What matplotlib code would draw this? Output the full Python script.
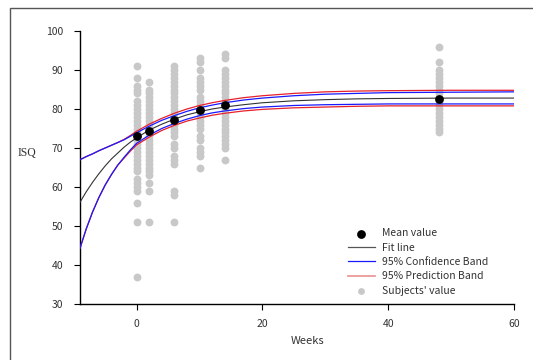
import matplotlib
matplotlib.use("Agg")
import matplotlib.pyplot as plt
from matplotlib.patches import Rectangle

# subjects' ISQ values per measurement week
weeks = [0, 2, 6, 10, 14, 48]
subjects = {
    0: [91, 88, 86, 85, 84, 82, 81, 80, 79, 78, 77, 76, 75, 74, 73, 72, 71, 70,
        69, 68, 67, 66, 65, 64, 62, 61, 60, 59, 56, 51, 37],
    2: [87, 85, 84, 83, 82, 81, 80, 79, 78, 77, 76, 75, 74, 73, 72, 71, 70, 69,
        68, 67, 66, 65, 64, 63, 61, 59, 51],
    6: [91, 90, 89, 88, 87, 86, 85, 84, 83, 82, 81, 80, 79, 78, 77, 76, 75, 74,
        73, 71, 70, 68, 67, 66, 59, 58, 51],
    10: [93, 92, 90, 88, 87, 86, 85, 83, 82, 81, 80, 79, 78, 77, 76, 75, 73, 72,
         70, 69, 68, 65],
    14: [94, 93, 90, 89, 88, 87, 86, 85, 84, 83, 82, 81, 80, 79, 78, 77, 76, 75,
         74, 73, 72, 71, 70, 67],
    48: [96, 92, 90, 89, 88, 87, 86, 85, 84, 83, 82, 81, 80, 79, 78, 77, 76, 75, 74],
}
mean_values = [73.0, 74.4, 77.2, 79.7, 81.0, 82.6]

# curves
curve_x = [-9, -8, -7, -6, -5, -4, -3, -2, -1, 0, 2, 4, 6, 8, 10, 12, 14, 17,
           20, 25, 30, 35, 40, 50, 60]
fit_y = [56.1, 58.8, 61.2, 63.4, 65.4, 67.2, 68.7, 70.2, 71.5, 72.6, 74.6, 76.1,
         77.4, 78.5, 79.3, 80.0, 80.5, 81.1, 81.6, 82.1, 82.4, 82.6, 82.7, 82.8, 82.8]
ci_upper = [67.0, 67.8, 68.5, 69.3, 70.0, 70.7, 71.4, 72.1, 73.0, 73.9, 75.6, 77.1,
            78.3, 79.4, 80.3, 81.0, 81.6, 82.3, 82.8, 83.4, 83.8, 84.0, 84.2, 84.3, 84.4]
pi_upper = [67.0, 67.8, 68.5, 69.3, 70.0, 70.7, 71.4, 72.2, 73.2, 74.3, 76.1, 77.6,
            78.9, 80.0, 80.9, 81.6, 82.2, 82.9, 83.4, 84.0, 84.4, 84.6, 84.7, 84.8, 84.8]
ci_lower = [44.3, 49.3, 53.6, 57.3, 60.5, 63.2, 65.6, 67.6, 69.5, 71.2, 73.3, 75.0,
            76.3, 77.4, 78.3, 79.0, 79.5, 80.1, 80.5, 80.9, 81.1, 81.2, 81.3, 81.3, 81.3]
pi_lower = [44.3, 49.3, 53.6, 57.3, 60.5, 63.2, 65.6, 67.4, 69.2, 70.8, 72.8, 74.5,
            75.8, 76.9, 77.7, 78.4, 78.9, 79.5, 79.9, 80.3, 80.5, 80.7, 80.8, 80.8, 80.8]

sans = ["Noto Sans CJK KR", "DejaVu Sans"]
txt = "#333333"

fig = plt.figure(figsize=(5.33, 3.6), dpi=100)
fig.patches.append(Rectangle((10 / 533, -0.1), 1.2, 1.1 - 8 / 360,
                             transform=fig.transFigure, fill=False,
                             edgecolor="#555555", linewidth=1.0))
ax = fig.add_axes([80 / 533, 1 - 304 / 360, 434 / 533, 273 / 360])

for w in weeks:
    ax.scatter([w] * len(subjects[w]), subjects[w], s=32, color="#c8c8c8",
               linewidths=0, zorder=2)

ax.plot(curve_x, pi_upper, color="#e8202a", lw=0.9, zorder=3)
ax.plot(curve_x, pi_lower, color="#e8202a", lw=0.9, zorder=3)
ax.plot(curve_x, ci_upper, color="#1a1aff", lw=0.9, zorder=4)
ax.plot(curve_x, ci_lower, color="#1a1aff", lw=0.9, zorder=4)
ax.plot(curve_x, fit_y, color="#333333", lw=0.8, zorder=5)
ax.scatter(weeks, mean_values, s=40, color="black", linewidths=0, zorder=6)

ax.set_xlim(-9, 60)
ax.set_ylim(30, 100)
ax.set_xticks([0, 20, 40, 60])
ax.set_yticks(range(30, 101, 10))
for s in ["top", "right"]:
    ax.spines[s].set_visible(False)
for s in ["left", "bottom"]:
    ax.spines[s].set_linewidth(1.0)
ax.tick_params(axis="y", length=4, width=0.8, pad=8, labelsize=7.5, labelcolor=txt)
ax.tick_params(axis="x", length=4, width=0.8, pad=7, labelsize=7.5, labelcolor=txt)
for lab in ax.get_xticklabels() + ax.get_yticklabels():
    lab.set_family(sans)

fig.text(27 / 533, 1 - 153 / 360, "ISQ", family="Liberation Serif", fontsize=8.5,
         color=txt, ha="center", va="center")
fig.text(308 / 533, 1 - 341 / 360, "Weeks", family=sans, fontsize=8,
         color=txt, ha="center", va="center")

h_mean = ax.scatter([], [], s=40, color="black", linewidths=0)
h_fit, = ax.plot([], [], color="#555555", lw=0.9)
h_ci, = ax.plot([], [], color="#1a1aff", lw=0.9)
h_pi, = ax.plot([], [], color="#e8908f", lw=1.2)
h_sub = ax.scatter([], [], s=24, color="#c8c8c8", linewidths=0)
leg = ax.legend([h_mean, h_fit, h_ci, h_pi, h_sub],
                ["Mean value", "Fit line", "95% Confidence Band",
                 "95% Prediction Band", "Subjects' value"],
                loc="lower left", bbox_to_anchor=(0.607, 0.015), frameon=False,
                prop={"family": sans, "size": 7.5}, labelspacing=0.42,
                handlelength=2.6, handletextpad=0.7, borderaxespad=0)
for t in leg.get_texts():
    t.set_color(txt)

fig.savefig("out.png", dpi=100)
